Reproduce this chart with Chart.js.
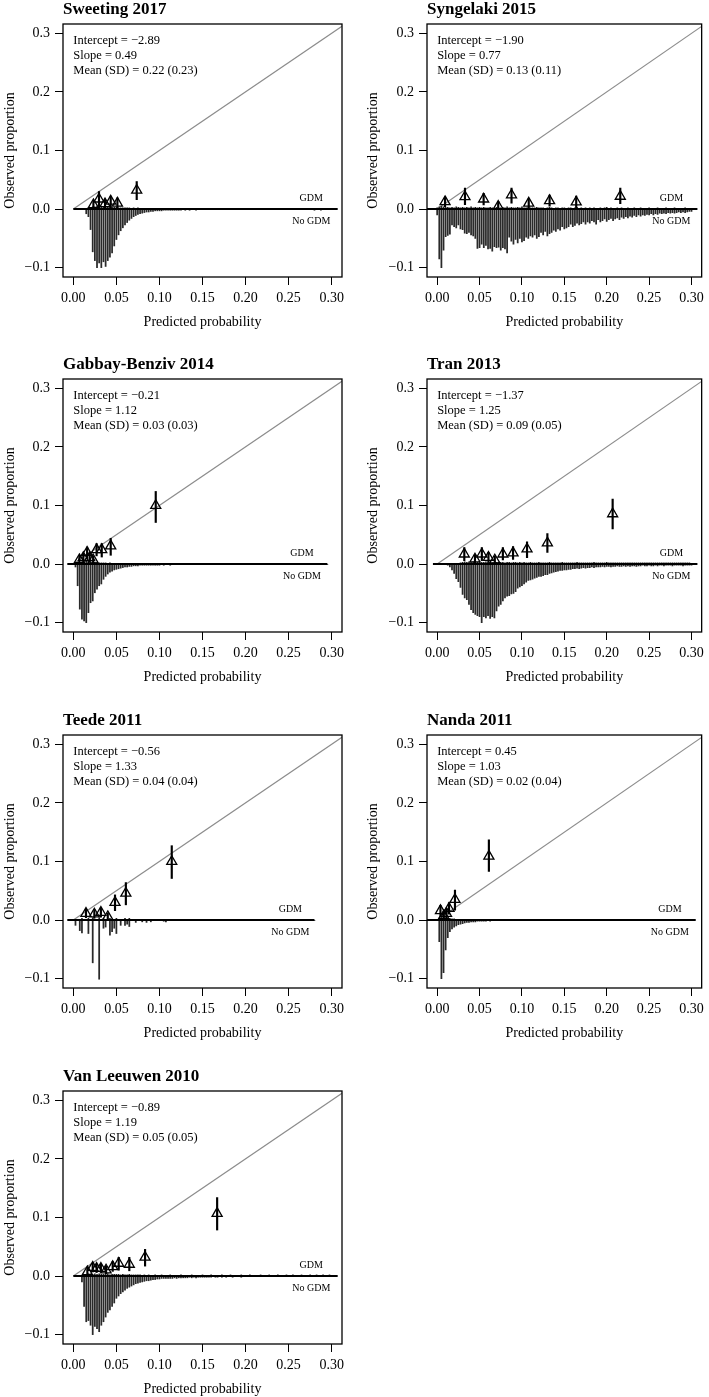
<!DOCTYPE html>
<html>
<head>
<meta charset="utf-8">
<script src="https://cdn.jsdelivr.net/npm/chart.js@4.4.1/dist/chart.umd.min.js"></script>
<style>
  body { margin: 0; background: #fff; width: 709px; height: 1397px; position: relative; overflow: hidden; }
  canvas { position: absolute; }
</style>
</head>
<body>
<script>
const studies = ['Sweeting 2017', 'Syngelaki 2015', 'Gabbay-Benziv 2014', 'Tran 2013', 'Teede 2011', 'Nanda 2011', 'Van Leeuwen 2010'];
const intercepts = [-2.89, -1.90, -0.21, -1.37, -0.56, 0.45, -0.89];
const slopes = [0.49, 0.77, 1.12, 1.25, 1.33, 1.03, 1.19];
const means = [0.22, 0.13, 0.03, 0.09, 0.04, 0.02, 0.05];
const sds = [0.23, 0.11, 0.03, 0.05, 0.04, 0.04, 0.05];

const xTicks = [0, 0.05, 0.10, 0.15, 0.20, 0.25, 0.30];
const yTicks = [-0.1, 0, 0.1, 0.2, 0.3];
const binWidth = 0.0025;

// grouped observed proportions (triangles) with their intervals
const sweetingPred = [0.0233, 0.0298, 0.0368, 0.0434, 0.0512, 0.0736];
const sweetingObs = [0.0074, 0.017, 0.009, 0.0135, 0.010, 0.032];
const sweetingLo = [0.000, 0.002, 0.001, 0.002, 0.002, 0.016];
const sweetingHi = [0.015, 0.030, 0.017, 0.022, 0.019, 0.047];

const syngelakiPred = [0.0093, 0.0328, 0.0548, 0.072, 0.0877, 0.108, 0.1326, 0.164, 0.216];
const syngelakiObs = [0.0125, 0.021, 0.017, 0.0046, 0.024, 0.010, 0.0143, 0.012, 0.0217];
const syngelakiLo = [0.004, 0.0075, 0.007, 0.000, 0.010, 0.002, 0.005, 0.002, 0.009];
const syngelakiHi = [0.021, 0.036, 0.027, 0.013, 0.036, 0.018, 0.024, 0.022, 0.036];

const gabbayPred = [0.007, 0.0116, 0.016, 0.019, 0.023, 0.027, 0.033, 0.0434, 0.0957];
const gabbayObs = [0.0074, 0.011, 0.020, 0.011, 0.007, 0.0245, 0.0245, 0.031, 0.100];
const gabbayLo = [0.000, 0.004, 0.009, 0.004, 0.000, 0.014, 0.012, 0.015, 0.071];
const gabbayHi = [0.015, 0.018, 0.029, 0.019, 0.014, 0.035, 0.035, 0.044, 0.124];

const tranPred = [0.032, 0.0446, 0.0527, 0.0605, 0.068, 0.0775, 0.0895, 0.106, 0.130, 0.207];
const tranObs = [0.017, 0.0086, 0.017, 0.0114, 0.0069, 0.017, 0.019, 0.0257, 0.036, 0.0857];
const tranLo = [0.006, 0.002, 0.006, 0.003, 0.001, 0.007, 0.008, 0.011, 0.020, 0.060];
const tranHi = [0.028, 0.016, 0.028, 0.020, 0.013, 0.028, 0.030, 0.038, 0.052, 0.111];

const teedePred = [0.0147, 0.0244, 0.032, 0.040, 0.0484, 0.061, 0.1143];
const teedeObs = [0.0114, 0.0103, 0.0131, 0.0057, 0.030, 0.0457, 0.100];
const teedeLo = [0.004, 0.003, 0.005, 0.000, 0.016, 0.026, 0.071];
const teedeHi = [0.019, 0.018, 0.021, 0.012, 0.043, 0.064, 0.127];

const nandaPred = [0.0039, 0.0078, 0.011, 0.014, 0.021, 0.061];
const nandaObs = [0.016, 0.0074, 0.0114, 0.020, 0.035, 0.109];
const nandaLo = [0.006, 0.002, 0.004, 0.010, 0.017, 0.083];
const nandaHi = [0.025, 0.013, 0.019, 0.030, 0.051, 0.137];

const leeuwenPred = [0.0163, 0.0225, 0.027, 0.032, 0.038, 0.0457, 0.0527, 0.065, 0.0833, 0.167];
const leeuwenObs = [0.0074, 0.0148, 0.013, 0.013, 0.0103, 0.016, 0.0217, 0.020, 0.032, 0.107];
const leeuwenLo = [0.000, 0.007, 0.006, 0.006, 0.004, 0.008, 0.010, 0.009, 0.017, 0.0786];
const leeuwenHi = [0.015, 0.022, 0.020, 0.020, 0.017, 0.025, 0.032, 0.032, 0.0456, 0.134];

// range of predicted risk (the horizontal base line)
const sweetingRange = [0.0, 0.307];
const syngelakiRange = [-0.012, 0.307];
const gabbayRange = [-0.007, 0.295];
const tranRange = [-0.005, 0.307];
const teedeRange = [-0.007, 0.28];
const nandaRange = [-0.012, 0.305];
const leeuwenRange = [0.0, 0.307];

// risk distribution spikes, one value per bin of width binWidth starting at 0
const sweetingNoGdm = [
  0, 0, 0, 0, 0, 0, -0.008, -0.013, -0.035, -0.073,
  -0.088, -0.100, -0.092, -0.100, -0.090, -0.098, -0.088, -0.082, -0.075, -0.063,
  -0.052, -0.044, -0.037, -0.032, -0.027, -0.023, -0.019, -0.016, -0.013, -0.011,
  -0.009, -0.008, -0.007, -0.006, -0.005, -0.005, -0.004, -0.004, -0.003, -0.003,
  -0.003, -0.003, -0.002, -0.002, -0.002, -0.002, -0.002, -0.002, -0.002, -0.002,
  -0.002, -0.001, -0.002, -0.001, -0.002, -0.001, -0.001, -0.002, -0.001, -0.001,
  -0.001, 0, -0.001, -0.001, 0, -0.001, 0, -0.001, 0, -0.001,
  0, -0.001, 0, 0, -0.001, 0, -0.001, 0, 0, -0.001,
  0, 0, -0.001, 0, 0, -0.001, 0, 0, -0.001, 0,
  0, -0.001, 0, 0, 0, -0.001, 0, 0, -0.001, 0,
  0, 0, -0.001, 0, 0, 0, -0.001, 0, -0.001, -0.001,
  -0.001, -0.001, -0.002, -0.001, -0.001, -0.002, -0.001, -0.001, -0.001, -0.001,
  -0.001
];
const sweetingGdm = [
  0, 0, 0, 0, 0, 0, 0, 0.002, 0.003, 0.004,
  0.004, 0.005, 0.004, 0.005, 0.004, 0.004, 0.003, 0.004, 0.003, 0.003,
  0.003, 0.002, 0.002, 0.002, 0.002, 0.002, 0.002, 0.001, 0.002, 0.001,
  0.002, 0.001, 0.001, 0.001, 0.001, 0.001, 0.001, 0.001, 0.001, 0.001
];

const syngelakiNoGdm = [
  -0.010, -0.085, -0.100, -0.070, -0.047, -0.045, -0.043, -0.027, -0.030, -0.032,
  -0.027, -0.034, -0.035, -0.041, -0.042, -0.040, -0.044, -0.046, -0.050, -0.067,
  -0.066, -0.060, -0.066, -0.062, -0.068, -0.067, -0.072, -0.064, -0.066, -0.065,
  -0.070, -0.066, -0.068, -0.075, -0.048, -0.055, -0.060, -0.052, -0.058, -0.050,
  -0.056, -0.054, -0.048, -0.050, -0.046, -0.048, -0.044, -0.050, -0.047, -0.040,
  -0.044, -0.038, -0.046, -0.042, -0.040, -0.036, -0.038, -0.034, -0.036, -0.030,
  -0.034, -0.032, -0.030, -0.026, -0.030, -0.028, -0.024, -0.027, -0.025, -0.022,
  -0.026, -0.022, -0.024, -0.020, -0.022, -0.026, -0.018, -0.022, -0.020, -0.017,
  -0.021, -0.018, -0.016, -0.020, -0.017, -0.015, -0.018, -0.014, -0.016, -0.013,
  -0.015, -0.012, -0.014, -0.011, -0.013, -0.010, -0.012, -0.010, -0.011, -0.009,
  -0.010, -0.008, -0.010, -0.008, -0.009, -0.007, -0.008, -0.007, -0.008, -0.006,
  -0.007, -0.006, -0.007, -0.006, -0.005, -0.006, -0.005, -0.006, -0.005, -0.004,
  -0.004
];
const syngelakiGdm = [
  0.002, 0.004, 0.005, 0.004, 0.003, 0.003, 0.002, 0.003, 0.002, 0.004,
  0.003, 0.002, 0.003, 0.002, 0.003, 0.002, 0.004, 0.002, 0.003, 0.002,
  0.003, 0.002, 0.003, 0.002, 0.002, 0.003, 0.002, 0.002, 0.003, 0.002,
  0.002, 0.003, 0.002, 0.004, 0.002, 0.003, 0.002, 0.002, 0.003, 0.002,
  0.004, 0.002, 0.002, 0.003, 0.002, 0.002, 0.002, 0.003, 0.002, 0.002,
  0.002, 0.001, 0.002, 0.003, 0.002, 0.001, 0.002, 0.002, 0.001, 0.002,
  0.002, 0.001, 0.002, 0.002, 0.001, 0.002, 0.003, 0.001, 0.002, 0.001,
  0.002, 0.001, 0.002, 0.001, 0.002, 0.001, 0.001, 0.002, 0.001, 0.002,
  0.003, 0.001, 0.002, 0.001, 0.001, 0.002, 0.001, 0.002, 0.001, 0.001,
  0.002, 0.001, 0.001, 0.002, 0.001, 0.001, 0.002, 0.001, 0.001, 0.001,
  0.002, 0.001, 0.001, 0.001, 0.002, 0.001, 0.001, 0.001, 0.002, 0.001,
  0.001, 0.001, 0.002, 0.001, 0.001, 0.001, 0.001, 0.002, 0.001, 0.001
];

const gabbayNoGdm = [
  0, -0.005, -0.037, -0.077, -0.094, -0.097, -0.100, -0.083, -0.066, -0.063,
  -0.049, -0.043, -0.037, -0.034, -0.026, -0.021, -0.017, -0.014, -0.012, -0.010,
  -0.009, -0.008, -0.007, -0.006, -0.005, -0.005, -0.004, -0.004, -0.003, -0.003,
  -0.003, -0.002, -0.002, -0.002, -0.002, -0.002, -0.002, -0.002, -0.002, -0.002,
  -0.002, -0.001, -0.002, -0.001, -0.001, -0.002, -0.001, -0.001, -0.001, -0.001,
  -0.001, 0, -0.001, -0.001, 0, -0.001, 0, -0.001, 0, -0.001,
  0, -0.001, 0, 0, -0.001, 0, 0, -0.001, 0, 0,
  -0.001, 0, 0, 0, -0.001, 0, 0, -0.001, 0, 0,
  0, -0.001, 0, 0, 0, -0.001, 0, 0, 0, -0.001,
  0, 0, 0, -0.001, 0, 0, 0, 0, -0.001, 0,
  0, 0, -0.001, 0, 0, 0, 0, -0.001, 0, 0,
  0, -0.001, 0, 0, 0, -0.001, 0, 0, -0.001
];
const gabbayGdm = [
  0, 0, 0.002, 0.003, 0.004, 0.004, 0.005, 0.004, 0.004, 0.003,
  0.003, 0.003, 0.002, 0.002, 0.002, 0.002, 0.001, 0.002, 0.001, 0.001,
  0.001
];

const tranNoGdm = [
  0, 0, 0, 0, 0, -0.002, -0.005, -0.010, -0.016, -0.025,
  -0.030, -0.040, -0.052, -0.058, -0.061, -0.069, -0.078, -0.083, -0.086, -0.088,
  -0.090, -0.100, -0.090, -0.092, -0.088, -0.093, -0.090, -0.092, -0.080, -0.072,
  -0.069, -0.063, -0.058, -0.055, -0.054, -0.051, -0.050, -0.047, -0.041, -0.039,
  -0.037, -0.034, -0.031, -0.028, -0.027, -0.026, -0.024, -0.023, -0.021, -0.021,
  -0.020, -0.018, -0.018, -0.016, -0.015, -0.014, -0.013, -0.012, -0.011, -0.011,
  -0.010, -0.010, -0.009, -0.009, -0.008, -0.008, -0.007, -0.008, -0.007, -0.006,
  -0.007, -0.006, -0.006, -0.005, -0.006, -0.005, -0.005, -0.005, -0.004, -0.005,
  -0.004, -0.004, -0.005, -0.004, -0.004, -0.003, -0.004, -0.004, -0.003, -0.004,
  -0.003, -0.004, -0.003, -0.003, -0.004, -0.003, -0.003, -0.002, -0.003, -0.003,
  -0.002, -0.003, -0.003, -0.002, -0.003, -0.002, -0.002, -0.003, -0.002, -0.002,
  -0.002, -0.003, -0.002, -0.002, -0.002, -0.002, -0.003, -0.002, -0.002, -0.002,
  -0.002
];
const tranGdm = [
  0, 0, 0, 0, 0, 0, 0, 0, 0, 0,
  0, 0.002, 0.003, 0.004, 0.003, 0.004, 0.003, 0.004, 0.003, 0.003,
  0.004, 0.003, 0.003, 0.004, 0.003, 0.003, 0.002, 0.003, 0.003, 0.003,
  0.003, 0.003, 0.002, 0.003, 0.003, 0.002, 0.003, 0.003, 0.002, 0.003,
  0.002, 0.003, 0.002, 0.002, 0.003, 0.002, 0.002, 0.002, 0.003, 0.002,
  0.002, 0.002, 0.002, 0.003, 0.002, 0.002, 0.002, 0.002, 0.002, 0.003,
  0.002, 0.002, 0.002, 0.002, 0.002, 0.002, 0.003, 0.002, 0.002, 0.002,
  0.002, 0.002, 0.002, 0.002, 0.003, 0.002, 0.002, 0.002, 0.002, 0.002,
  0.003, 0.002, 0.002, 0.002, 0.002, 0.002, 0.002, 0.002, 0.002, 0.002,
  0.002, 0.002, 0.002, 0.002, 0.002, 0.002, 0.002, 0.002, 0.002, 0.002,
  0.002, 0.002, 0.002, 0.002, 0.002, 0.002, 0.002, 0.002, 0.002, 0.002,
  0.002, 0.002, 0.002, 0.002, 0.002, 0.002, 0.002, 0.002, 0.002, 0.002
];

const teedeNoGdm = [
  0, -0.009, 0, -0.018, -0.022, 0, 0, -0.023, 0, -0.073,
  0, 0, -0.101, 0, -0.014, -0.012, 0, -0.026, -0.020, -0.014,
  -0.023, 0, -0.009, 0, -0.009, -0.007, -0.011, 0, 0, -0.004,
  0, 0, -0.003, 0, -0.004, 0, -0.003, 0, 0, 0,
  0, 0, -0.002, -0.003, 0, 0, 0, 0, -0.001, 0,
  0, 0, 0, 0, 0, 0, -0.001, 0, 0, 0,
  0, 0, 0, 0, -0.001, 0, 0, 0, 0, 0,
  0, 0, -0.001, 0, 0, 0, 0, 0, 0, 0,
  0, 0, 0, 0, -0.001, 0, 0, 0, 0, 0,
  0, 0, 0, 0, 0, 0, -0.001, 0, 0, 0,
  0, 0, 0, 0, 0, 0, 0, 0, -0.001, 0,
  0, 0, -0.001
];
const teedeGdm = [
  0, 0, 0, 0, 0.003, 0, 0, 0.003, 0, 0.004,
  0, 0, 0.004, 0, 0.003, 0, 0, 0.003, 0, 0,
  0.003, 0, 0, 0, 0.003, 0, 0.003
];

const nandaNoGdm = [
  0, -0.037, -0.100, -0.090, -0.051, -0.030, -0.020, -0.015, -0.012, -0.010,
  -0.008, -0.007, -0.006, -0.005, -0.004, -0.004, -0.003, -0.003, -0.003, -0.002,
  -0.002, -0.002, -0.002, -0.002, -0.001, -0.002, -0.001, -0.001, -0.001, -0.001,
  -0.001, 0, -0.001, 0, -0.001, 0, 0, -0.001
];
const nandaGdm = [0, 0.004, 0.006, 0.005, 0.004, 0.003, 0.003, 0.002, 0.002];

const leeuwenNoGdm = [
  0, 0, 0, 0, -0.010, -0.052, -0.078, -0.076, -0.084, -0.100,
  -0.086, -0.090, -0.095, -0.084, -0.078, -0.070, -0.062, -0.058, -0.052, -0.046,
  -0.038, -0.034, -0.030, -0.027, -0.024, -0.021, -0.019, -0.017, -0.015, -0.013,
  -0.012, -0.011, -0.010, -0.009, -0.008, -0.008, -0.007, -0.006, -0.006, -0.005,
  -0.005, -0.004, -0.004, -0.004, -0.004, -0.004, -0.004, -0.003, -0.004, -0.003,
  -0.003, -0.003, -0.003, -0.003, -0.002, -0.003, -0.002, -0.003, -0.002, -0.002,
  -0.002, -0.002, -0.002, -0.002, -0.002, -0.001, -0.002, -0.002, -0.001, -0.002,
  -0.001, -0.002, -0.001, -0.001, -0.002, -0.001, -0.001, -0.001, -0.002, -0.001,
  -0.001, -0.001, -0.001, 0, -0.001, -0.001, 0, -0.001, -0.001, 0,
  -0.001, 0, -0.001, -0.001, 0, -0.001, 0, 0, -0.001, 0,
  -0.001, 0, 0, -0.001, 0, -0.001, 0, 0, -0.001, 0,
  0, -0.001, 0, 0, -0.001, 0, 0, -0.001, 0, -0.001
];
const leeuwenGdm = [
  0, 0, 0, 0, 0, 0.002, 0.003, 0.004, 0.004, 0.003,
  0.004, 0.003, 0.004, 0.003, 0.003, 0.003, 0.004, 0.002, 0.003, 0.003,
  0.003, 0.003, 0.002, 0.003, 0.002, 0.002, 0.003, 0.002, 0.002, 0.002,
  0.002, 0.002, 0.001, 0.002, 0.001, 0.002, 0.001, 0.001, 0.002, 0.001,
  0.001, 0.002, 0.001, 0.001, 0.001, 0.002, 0.001, 0.001, 0.001, 0.001,
  0.002, 0.001, 0.001, 0.001, 0.001, 0.002, 0.001, 0.001, 0.001, 0.001,
  0.002, 0.001, 0.001, 0.001, 0.002, 0.001, 0.001, 0.001, 0.001, 0.002,
  0.001, 0.001, 0.001, 0.002, 0.001, 0.001, 0.001, 0.001, 0.002, 0.001,
  0.001, 0.001, 0.002, 0.001, 0.001, 0.001, 0.001, 0.002, 0.001, 0.001,
  0.001, 0.002, 0.001, 0.001, 0.001, 0.002, 0.001, 0.001, 0.001, 0.002,
  0.001, 0.001, 0.002, 0.001, 0.001, 0.001, 0.002, 0.001, 0.001, 0.001,
  0.002, 0.001, 0.001, 0.002, 0.001, 0.001, 0.002, 0.001, 0.001, 0.002
];

const panels = [
  {pred: sweetingPred, obs: sweetingObs, lo: sweetingLo, hi: sweetingHi, noGdm: sweetingNoGdm, gdm: sweetingGdm, range: sweetingRange},
  {pred: syngelakiPred, obs: syngelakiObs, lo: syngelakiLo, hi: syngelakiHi, noGdm: syngelakiNoGdm, gdm: syngelakiGdm, range: syngelakiRange},
  {pred: gabbayPred, obs: gabbayObs, lo: gabbayLo, hi: gabbayHi, noGdm: gabbayNoGdm, gdm: gabbayGdm, range: gabbayRange},
  {pred: tranPred, obs: tranObs, lo: tranLo, hi: tranHi, noGdm: tranNoGdm, gdm: tranGdm, range: tranRange},
  {pred: teedePred, obs: teedeObs, lo: teedeLo, hi: teedeHi, noGdm: teedeNoGdm, gdm: teedeGdm, range: teedeRange},
  {pred: nandaPred, obs: nandaObs, lo: nandaLo, hi: nandaHi, noGdm: nandaNoGdm, gdm: nandaGdm, range: nandaRange},
  {pred: leeuwenPred, obs: leeuwenObs, lo: leeuwenLo, hi: leeuwenHi, noGdm: leeuwenNoGdm, gdm: leeuwenGdm, range: leeuwenRange}
];

const serif = '"Liberation Serif", "Times New Roman", serif';
const minus = v => (v < 0 ? '\u2212' : '') + Math.abs(v).toFixed(2);

// page geometry
const colLeft = [0, 354], colWidth = [354, 355];
const rowTop = [0, 355, 711, 1067];
const boxLeft = [63, 73], boxRight = [342, 350];
const padLeft = [1.6, 10.6];

const framePlugin = {
  id: 'frame',
  afterDatasetsDraw(chart, args, opts) {
    const {ctx, chartArea: a, scales: {x, y}} = chart;
    ctx.save();
    ctx.strokeStyle = '#000';
    ctx.lineWidth = 1.3;
    ctx.strokeRect(a.left, a.top, a.right - a.left, a.bottom - a.top);

    ctx.fillStyle = '#000';
    ctx.textAlign = 'left';
    ctx.textBaseline = 'alphabetic';
    ctx.font = 'bold 17px ' + serif;
    ctx.fillText(opts.title, a.left, a.top - 10);

    ctx.font = '12.5px ' + serif;
    const x0 = x.getPixelForValue(0);
    opts.lines.forEach((t, i) => ctx.fillText(t, x0, a.top + 20 + i * 15));

    ctx.font = '10px ' + serif;
    ctx.textAlign = 'center';
    ctx.textBaseline = 'middle';
    const lx = x.getPixelForValue(opts.labelX);
    ctx.fillText('GDM', lx, y.getPixelForValue(0.018));
    ctx.fillText('No GDM', lx, y.getPixelForValue(-0.021));
    ctx.restore();
  }
};

const spikes = arr => arr.map((v, i) => ({x: i * binWidth, y: v})).filter(d => d.y !== 0);

panels.forEach((p, k) => {
  const col = k % 2, row = Math.floor(k / 2);
  const canvas = document.createElement('canvas');
  canvas.width = colWidth[col];
  canvas.height = 355;
  canvas.style.left = colLeft[col] + 'px';
  canvas.style.top = rowTop[row] + 'px';
  document.body.appendChild(canvas);

  const yWidth = boxLeft[col] - padLeft[col];
  const tickFont = {family: serif, size: 14};

  new Chart(canvas, {
    type: 'scatter',
    data: {
      datasets: [
        {
          type: 'scatter',
          data: p.pred.map((v, i) => ({x: v, y: p.obs[i]})),
          pointStyle: 'triangle',
          pointRadius: 5.8,
          borderWidth: 1.3,
          borderColor: '#000',
          backgroundColor: 'rgba(0,0,0,0)'
        },
        {
          type: 'bar',
          data: p.pred.map((v, i) => ({x: v, y: [p.lo[i], p.hi[i]]})),
          backgroundColor: '#000',
          barThickness: 1.5,
          grouped: false
        },
        {
          type: 'line',
          data: [{x: p.range[0], y: 0}, {x: p.range[1], y: 0}],
          borderColor: '#000',
          borderWidth: 2,
          pointRadius: 0
        },
        {
          type: 'bar',
          data: spikes(p.gdm),
          backgroundColor: '#222',
          barThickness: 1,
          grouped: false
        },
        {
          type: 'bar',
          data: spikes(p.noGdm),
          backgroundColor: '#2a2a2a',
          barThickness: 1.1,
          grouped: false
        },
        {
          type: 'line',
          data: [{x: 0, y: 0}, {x: 0.33, y: 0.33}],
          borderColor: '#8c8c8c',
          borderWidth: 1.2,
          pointRadius: 0
        }
      ]
    },
    options: {
      responsive: false,
      animation: false,
      events: [],
      layout: {padding: {left: padLeft[col], right: colWidth[col] - boxRight[col], top: 24, bottom: 24}},
      plugins: {
        legend: {display: false},
        tooltip: {enabled: false},
        frame: {
          title: studies[k],
          lines: ['Intercept = ' + minus(intercepts[k]), 'Slope = ' + minus(slopes[k]),
                  'Mean (SD) = ' + minus(means[k]) + ' (' + minus(sds[k]) + ')'],
          labelX: p.range[1] * 0.9
        }
      },
      scales: {
        x: {
          type: 'linear',
          min: -0.012,
          max: 0.312,
          offset: false,
          afterFit: s => { s.height = 54; },
          afterBuildTicks: s => { s.ticks = xTicks.map(v => ({value: v})); },
          grid: {display: true, offset: false, drawOnChartArea: false, drawTicks: true, tickLength: 8, color: '#000'},
          border: {display: false},
          ticks: {autoSkip: false, maxRotation: 0, padding: 5, color: '#000', font: tickFont,
                  callback: v => v.toFixed(2)},
          title: {display: true, text: 'Predicted probability', color: '#000', font: tickFont, padding: 0}
        },
        y: {
          type: 'linear',
          min: -0.116,
          max: 0.316,
          offset: false,
          afterFit: s => { s.width = yWidth; },
          afterBuildTicks: s => { s.ticks = yTicks.map(v => ({value: v})); },
          grid: {display: true, offset: false, drawOnChartArea: false, drawTicks: true, tickLength: 8, color: '#000'},
          border: {display: false},
          ticks: {autoSkip: false, padding: 5, color: '#000', font: tickFont,
                  callback: v => (v < 0 ? '\u2212' : '') + Math.abs(v).toFixed(1)},
          title: {display: true, text: 'Observed proportion', color: '#000', font: tickFont, padding: 0}
        }
      }
    },
    plugins: [framePlugin]
  });
});
</script>
</body>
</html>
